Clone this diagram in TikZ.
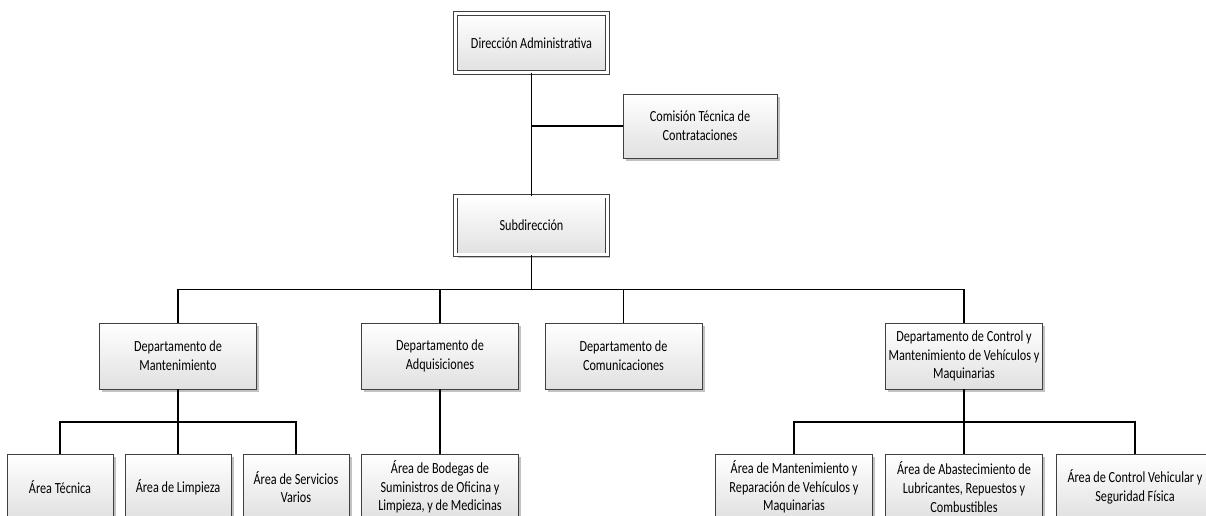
\documentclass[tikz,border=0pt]{standalone}
\usepackage{fontspec}
\setmainfont{Carlito}[FakeStretch=0.79]
\usetikzlibrary{shadows}

\begin{document}
\begin{tikzpicture}[x=0.75pt,y=-0.75pt]

\tikzset{%
every box/.style={
rectangle,
draw=black!75,
line width=0.6pt,
top color=white,
bottom color=black!12,
drop shadow={shadow xshift=2pt,shadow yshift=-2pt,fill=black!40,opacity=0.6},
align=center,
inner sep=1pt,
font=\fontsize{11.6}{14}\selectfont
},
box top/.style={
minimum width=114pt,
minimum height=44pt,
double=white,
double distance=2.2pt
},
box side/.style={
minimum width=115.5pt,
minimum height=48pt
},
box wide/.style={
minimum width=117.75pt,
minimum height=49.5pt
},
box narrow/.style={
minimum width=79.5pt,
minimum height=49.5pt
},
conn/.style={
draw=black,
line width=1.4pt
},
}

\clip (0,0) rectangle (1206,515);

% Top of the chart
\node [every box, box top] (dir) at (531.5,43) {Dirección Administrativa};
\node [every box, box side] (com) at (700,126) {Comisión Técnica de\\Contrataciones};
\node [every box, box top] (sub) at (531.5,225.5) {Subdirección};

% Departments
\foreach \n/\x/\t in {mant/178/{Departamento de\\Mantenimiento},
adq/440/{Departamento de\\Adquisiciones},
comu/623.5/{Departamento de\\Comunicaciones},
ctrl/964/{Departamento de Control y\\Mantenimiento de Vehículos y\\Maquinarias}}
\node [every box, box wide] (\n) at (\x,356) {\t};

% Areas under Mantenimiento
\foreach \n/\x/\t in {tec/60/{Área Técnica},
limp/178/{Área de Limpieza},
serv/296/{Área de Servicios\\Varios}}
\node [every box, box narrow] (\n) at (\x,487) {\t};

% Areas under Adquisiciones and Control
\foreach \n/\x/\t in {bod/440/{Área de Bodegas de\\Suministros de Oficina y\\Limpieza, y de Medicinas},
mrep/794/{Área de Mantenimiento y\\Reparación de Vehículos y\\Maquinarias},
abas/964/{Área de Abastecimiento de\\Lubricantes, Repuestos y\\Combustibles},
cveh/1135/{Área de Control Vehicular y\\Seguridad Física}}
\node [every box, box wide] (\n) at (\x,487) {\t};

% Bus points
\coordinate (bus) at (531.5,289.5);
\coordinate (mbus) at (178,421.7);
\coordinate (cbus) at (964,421.7);

% Connectors
\draw [conn] (dir) -- (sub);
\draw [conn] (com) -- (com -| dir);
\draw [conn] (sub) -- (bus);
\draw [conn] (mant.north) |- (bus) -| (ctrl.north);
\draw [conn] (adq) -- (adq |- bus);
\draw [conn] (comu) -- (comu |- bus);

\draw [conn] (mant) -- (mbus);
\draw [conn] (tec.north) |- (mbus) -| (serv.north);
\draw [conn] (limp) -- (mbus);

\draw [conn] (adq) -- (bod);

\draw [conn] (ctrl) -- (cbus);
\draw [conn] (mrep.north) |- (cbus) -| (cveh.north);
\draw [conn, line width=0.8pt] (abas) -- (cbus);

\end{tikzpicture}
\end{document}
